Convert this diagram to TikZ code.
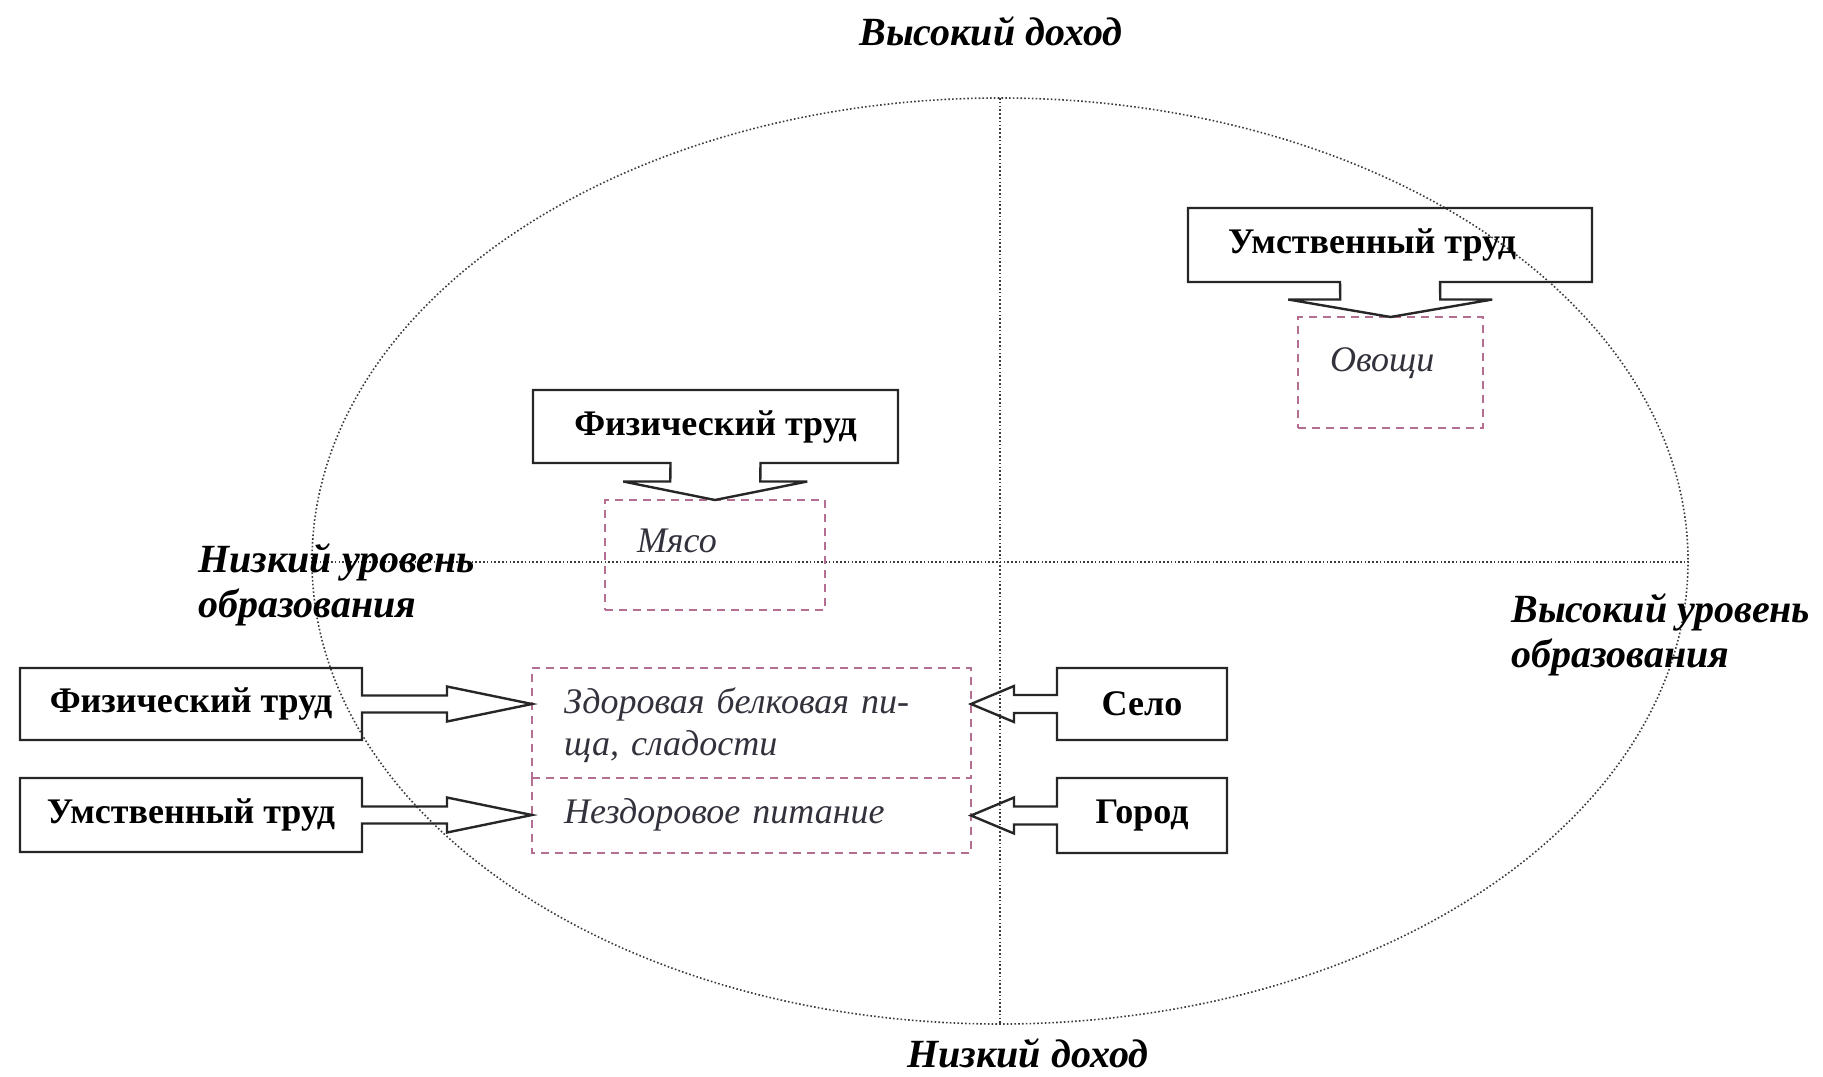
\documentclass[tikz,border=0pt]{standalone}
\usepackage{fontspec}
\setmainfont{Liberation Serif}
\usetikzlibrary{calc}

\definecolor{foodpink}{RGB}{180,110,145}
\definecolor{textgray}{RGB}{50,50,60}
\definecolor{dotgray}{RGB}{60,60,60}
\newcommand{\diagfont}{\fontsize{18}{21}\selectfont}

\begin{document}
\begin{tikzpicture}
[
    x=0.5pt, y=-0.5pt,
    axis/.style={draw=dotgray, line width=0.8pt, dash pattern=on 0.8pt off 1.1pt},
    labelbox/.style={inner sep=0pt, outer sep=0pt, font=\diagfont\bfseries},
    callout/.style={draw=black!85, line width=1.2pt, line join=miter},
    foodline/.style={draw=foodpink, line width=1pt, dash pattern=on 4pt off 3pt},
    foodbox/.style={foodline, anchor=north west, align=left, inner xsep=16pt, inner ysep=0pt,
        outer sep=0pt, font=\diagfont\itshape, text=textgray},
    axislabel/.style={font=\fontsize{20}{22.5}\selectfont\bfseries\itshape, inner sep=0pt, align=left},
]
\useasboundingbox (0,0) rectangle (1823,1076);

% quadrants
\draw[axis] (1000,561) ellipse [x radius=688, y radius=463];
\draw[axis] (1000,98) -- (1000,1024);
\draw[axis] (312,562) -- (1688,562);

\node[axislabel, anchor=base] (highinc) at (991,45) {Высокий доход};
\node[axislabel, anchor=base] (lowinc) at (1028,1067) {Низкий доход};
\node[axislabel, anchor=base west] (lowedu) at (198,617) {Низкий уровень\\образования};
\node[axislabel, anchor=base west] (highedu) at (1511,667) {Высокий уровень\\образования};

% food boxes
\node[foodbox, text width=60.5pt, text height=27pt, text depth=28.5pt] (veg) at (1298,317) {Овощи};
\node[foodbox, text width=78pt, text height=26pt, text depth=29pt] (meat) at (605,500) {Мясо};
\node[foodbox, text width=187.5pt, text height=22.5pt, text depth=32.5pt] (healthy) at (532,668)
    {Здоровая белковая пи-\\ща, сладости};
\node[foodbox, draw=none, text width=187.5pt, text height=22.5pt, text depth=15pt] (unhealthy) at (532,778)
    {Нездоровое питание};
\draw[foodline] (unhealthy.north west) -- (unhealthy.south west) -- (unhealthy.south east) -- (unhealthy.north east);

% labour and place
\node[labelbox, minimum width=182.5pt, minimum height=36.5pt] (physup) at (715.5,426.5) {Физический труд};
\node[labelbox, minimum width=202pt, minimum height=37pt] (mentup) at (1390,245) {Умственный труд\hspace*{18pt}};
\node[labelbox, minimum width=171pt, minimum height=36pt] (physleft) at (191,704) {Физический труд};
\node[labelbox, minimum width=171pt, minimum height=37pt] (mentleft) at (191,815) {Умственный труд};
\node[labelbox, minimum width=85pt, minimum height=36pt] (village) at (1142,704) {Село};
\node[labelbox, minimum width=85pt, minimum height=37.5pt] (city) at (1142,815.5) {Город};

% down callouts
\coordinate (tipa) at (meat.north);
\coordinate (mida) at ($(physup.south)!.5!(tipa)$);
\draw[callout] (physup.north west) -- (physup.north east) -- (physup.south east)
    -- ([xshift=22.5pt]physup.south) -- ([xshift=22.5pt]mida) -- ([xshift=46pt]mida) -- (tipa)
    -- ([xshift=-46pt]mida) -- ([xshift=-22.5pt]mida) -- ([xshift=-22.5pt]physup.south)
    -- (physup.south west) -- cycle;

\coordinate (tipb) at (veg.north);
\coordinate (midb) at ($(mentup.south)!.5!(tipb)$);
\draw[callout] (mentup.north west) -- (mentup.north east) -- (mentup.south east)
    -- ([xshift=25pt]mentup.south) -- ([xshift=25pt]midb) -- ([xshift=51pt]midb) -- (tipb)
    -- ([xshift=-51pt]midb) -- ([xshift=-25pt]midb) -- ([xshift=-25pt]mentup.south)
    -- (mentup.south west) -- cycle;

% right callouts
\coordinate (tipc) at (healthy.west |- physleft.east);
\coordinate (midc) at ($(physleft.east)!.5!(tipc)$);
\draw[callout] (physleft.north west) -- (physleft.north east)
    -- ([yshift=4.25pt]physleft.east) -- ([yshift=4.25pt]midc) -- ([yshift=8.75pt]midc) -- (tipc)
    -- ([yshift=-8.75pt]midc) -- ([yshift=-4.25pt]midc) -- ([yshift=-4.25pt]physleft.east)
    -- (physleft.south east) -- (physleft.south west) -- cycle;

\coordinate (tipd) at (unhealthy.west |- mentleft.east);
\coordinate (midd) at ($(mentleft.east)!.5!(tipd)$);
\draw[callout] (mentleft.north west) -- (mentleft.north east)
    -- ([yshift=4.25pt]mentleft.east) -- ([yshift=4.25pt]midd) -- ([yshift=8.75pt]midd) -- (tipd)
    -- ([yshift=-8.75pt]midd) -- ([yshift=-4.25pt]midd) -- ([yshift=-4.25pt]mentleft.east)
    -- (mentleft.south east) -- (mentleft.south west) -- cycle;

% left callouts
\coordinate (tipe) at (healthy.east |- village.west);
\coordinate (mide) at ($(village.west)!.5!(tipe)$);
\draw[callout] (village.north west) -- (village.north east) -- (village.south east)
    -- (village.south west) -- ([yshift=-4.5pt]village.west) -- ([yshift=-4.5pt]mide)
    -- ([yshift=-9pt]mide) -- (tipe) -- ([yshift=9pt]mide) -- ([yshift=4.5pt]mide)
    -- ([yshift=4.5pt]village.west) -- cycle;

\coordinate (tipf) at (unhealthy.east |- city.west);
\coordinate (midf) at ($(city.west)!.5!(tipf)$);
\draw[callout] (city.north west) -- (city.north east) -- (city.south east)
    -- (city.south west) -- ([yshift=-4.5pt]city.west) -- ([yshift=-4.5pt]midf)
    -- ([yshift=-9pt]midf) -- (tipf) -- ([yshift=9pt]midf) -- ([yshift=4.5pt]midf)
    -- ([yshift=4.5pt]city.west) -- cycle;
\end{tikzpicture}
\end{document}
